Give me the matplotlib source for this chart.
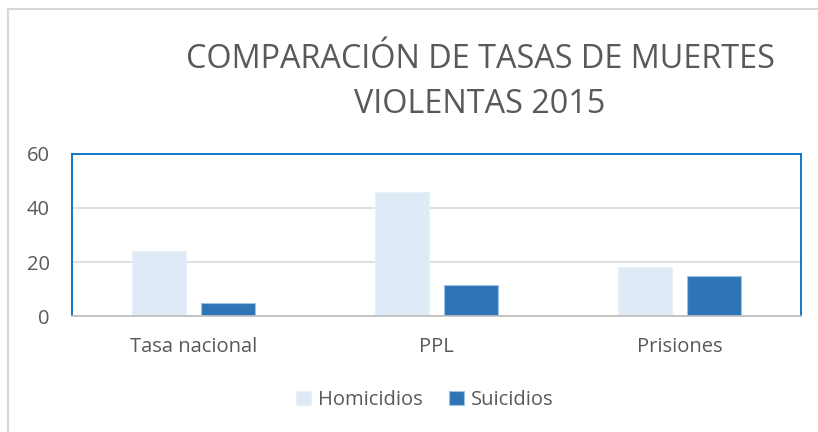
#!/usr/bin/python
""" Comparacion de tasas de muertes violentas 2015 """
import matplotlib
matplotlib.use('Agg')
import matplotlib.pyplot as plt
import numpy as np

categories = ['Tasa nacional', 'PPL', 'Prisiones']
homicidios = [24, 46, 18]
suicidios = [5, 11.5, 15]
y_ticks = [0, 20, 40, 60]

plt.rcParams['font.family'] = ['Open Sans', 'DejaVu Sans']
text_color = '#595959'

fig = plt.figure(figsize=(8.18, 4.32), dpi=100)
ax = fig.add_axes([72 / 818, 116 / 432, 729 / 818, 162 / 432])

x = np.arange(len(categories))
ax.bar(x - 0.142, homicidios, width=0.222, color='#deeaf6',
       edgecolor='#e8f0f8', linewidth=0.8, label='Homicidios', zorder=3)
ax.bar(x + 0.142, suicidios, width=0.222, color='#2e75b6',
       edgecolor='#9dc3e6', linewidth=0.8, label='Suicidios', zorder=3)

ax.set_xlim(-0.5, len(categories) - 0.5)
ax.set_ylim(0, 60)
ax.set_yticks(y_ticks)
ax.set_xticks(x)
ax.set_xticklabels(categories)
ax.tick_params(axis='both', length=0, labelsize=14.5, colors=text_color)
ax.tick_params(axis='x', pad=15)
ax.tick_params(axis='y', pad=16)
ax.grid(axis='y', color='#d9d9d9', linewidth=1.2, zorder=0)

for side in ['left', 'top', 'right']:
    ax.spines[side].set_color('#0070c0')
    ax.spines[side].set_linewidth(1.3)
ax.spines['bottom'].set_color('#bfbfbf')
ax.spines['bottom'].set_linewidth(1.3)
ax.spines['bottom'].set_zorder(4)

fig.text(480 / 818, 1 - 82 / 432,
         'COMPARACIÓN DE TASAS DE MUERTES\nVIOLENTAS 2015',
         ha='center', va='center', fontsize=23.3, color=text_color,
         linespacing=1.45)

fig.legend(loc='center', bbox_to_anchor=(425 / 818, 1 - 400 / 432),
           ncol=2, frameon=False, fontsize=14.5, handlelength=0.75,
           handleheight=0.75, handletextpad=0.35, columnspacing=1.3,
           labelcolor=text_color)

# outer chart frame
fig.add_artist(plt.Line2D([8 / 818, 8 / 818], [0, 1 - 9 / 432],
                          transform=fig.transFigure, color='#d9d9d9', lw=1.5))
fig.add_artist(plt.Line2D([8 / 818, 1], [1 - 9 / 432, 1 - 9 / 432],
                          transform=fig.transFigure, color='#d9d9d9', lw=1.5))

plt.savefig('out.png', dpi=100)
